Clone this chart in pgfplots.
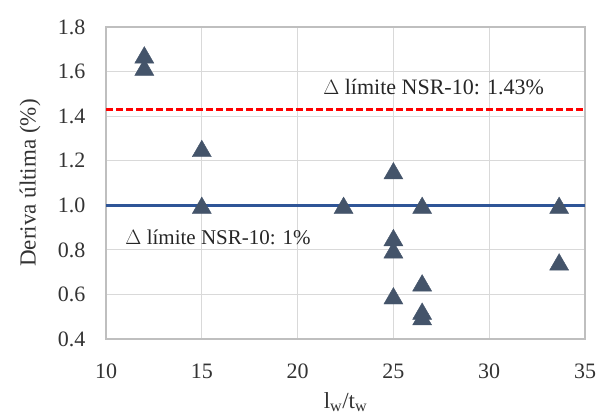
\documentclass[border=0pt]{standalone}
\usepackage{pgfplots}
\pgfplotsset{compat=1.18}
\usepackage{fontspec}
\setmainfont{Liberation Serif}
\definecolor{mk}{HTML}{44546A}
\definecolor{bl}{HTML}{2F5597}
\definecolor{gr}{HTML}{D9D9D9}
\definecolor{ax}{HTML}{BFBFBF}
\definecolor{rd}{HTML}{FF0000}
\begin{document}
\begin{tikzpicture}
\begin{axis}[
  scale only axis, width=479pt, height=312pt,
  xmin=10, xmax=35, ymin=0.4, ymax=1.8,
  xtick={10,15,...,35}, ytick={0.4,0.6,...,1.8},
  /pgf/number format/assume math mode=true,
  y tick label style={/pgf/number format/fixed, /pgf/number format/fixed zerofill, /pgf/number format/precision=1},
  yticklabel shift=17pt,
  ticklabel style={font=\fontsize{22}{26}\selectfont, text=black!80},
  xticklabel style={yshift=-21pt},
  major tick length=0pt,
  grid=major, major grid style={gr, line width=1.2pt},
  axis line style={ax, line width=1.4pt},
  xlabel={l\textsubscript{w}/t\textsubscript{w}},
  ylabel={Deriva última (\%)},
  every axis x label/.style={at={([yshift=-63pt]rel axis cs:0.5,0)}, anchor=center, font=\fontsize{23}{27}\selectfont, text=black!80},
  every axis y label/.style={at={([xshift=-76pt]rel axis cs:0,0.5)}, rotate=90, anchor=center, font=\fontsize{23}{27}\selectfont, text=black!80},
  clip=false,
]
\addplot[color=bl, line width=2.6pt, forget plot] coordinates {(10,1.0) (35,1.0)};
\addplot[color=rd, line width=2.6pt, dash pattern=on 7pt off 3pt, forget plot] coordinates {(10,1.43) (35,1.43)};
\addplot[only marks, mark=triangle*, mark size=11pt, mark options={fill=mk, draw=mk, yshift=-2.75pt}] coordinates {
 (12,1.675) (12,1.62)
 (15,1.255) (15,1.0)
 (22.4,1.0)
 (25,1.155) (25,0.855) (25,0.80) (25,0.594)
 (26.5,1.0) (26.5,0.652) (26.5,0.525) (26.5,0.50)
 (33.65,1.0) (33.65,0.746)
};
\node[font=\fontsize{22}{26}\selectfont, text=black!85] at (axis cs:27.1,1.53) {$\Delta$ límite NSR-10: 1.43\%};
\node[font=\fontsize{21}{25}\selectfont, text=black!85] at (axis cs:15.85,0.855) {$\Delta$ límite NSR-10: 1\%};
\coordinate (ll) at (rel axis cs:0,0);
\coordinate (ur) at (rel axis cs:1,1);
\end{axis}
\pgfresetboundingbox
\path ([shift={(-106pt,-75pt)}]ll) rectangle ([shift={(15pt,27pt)}]ur);
\end{tikzpicture}
\end{document}
